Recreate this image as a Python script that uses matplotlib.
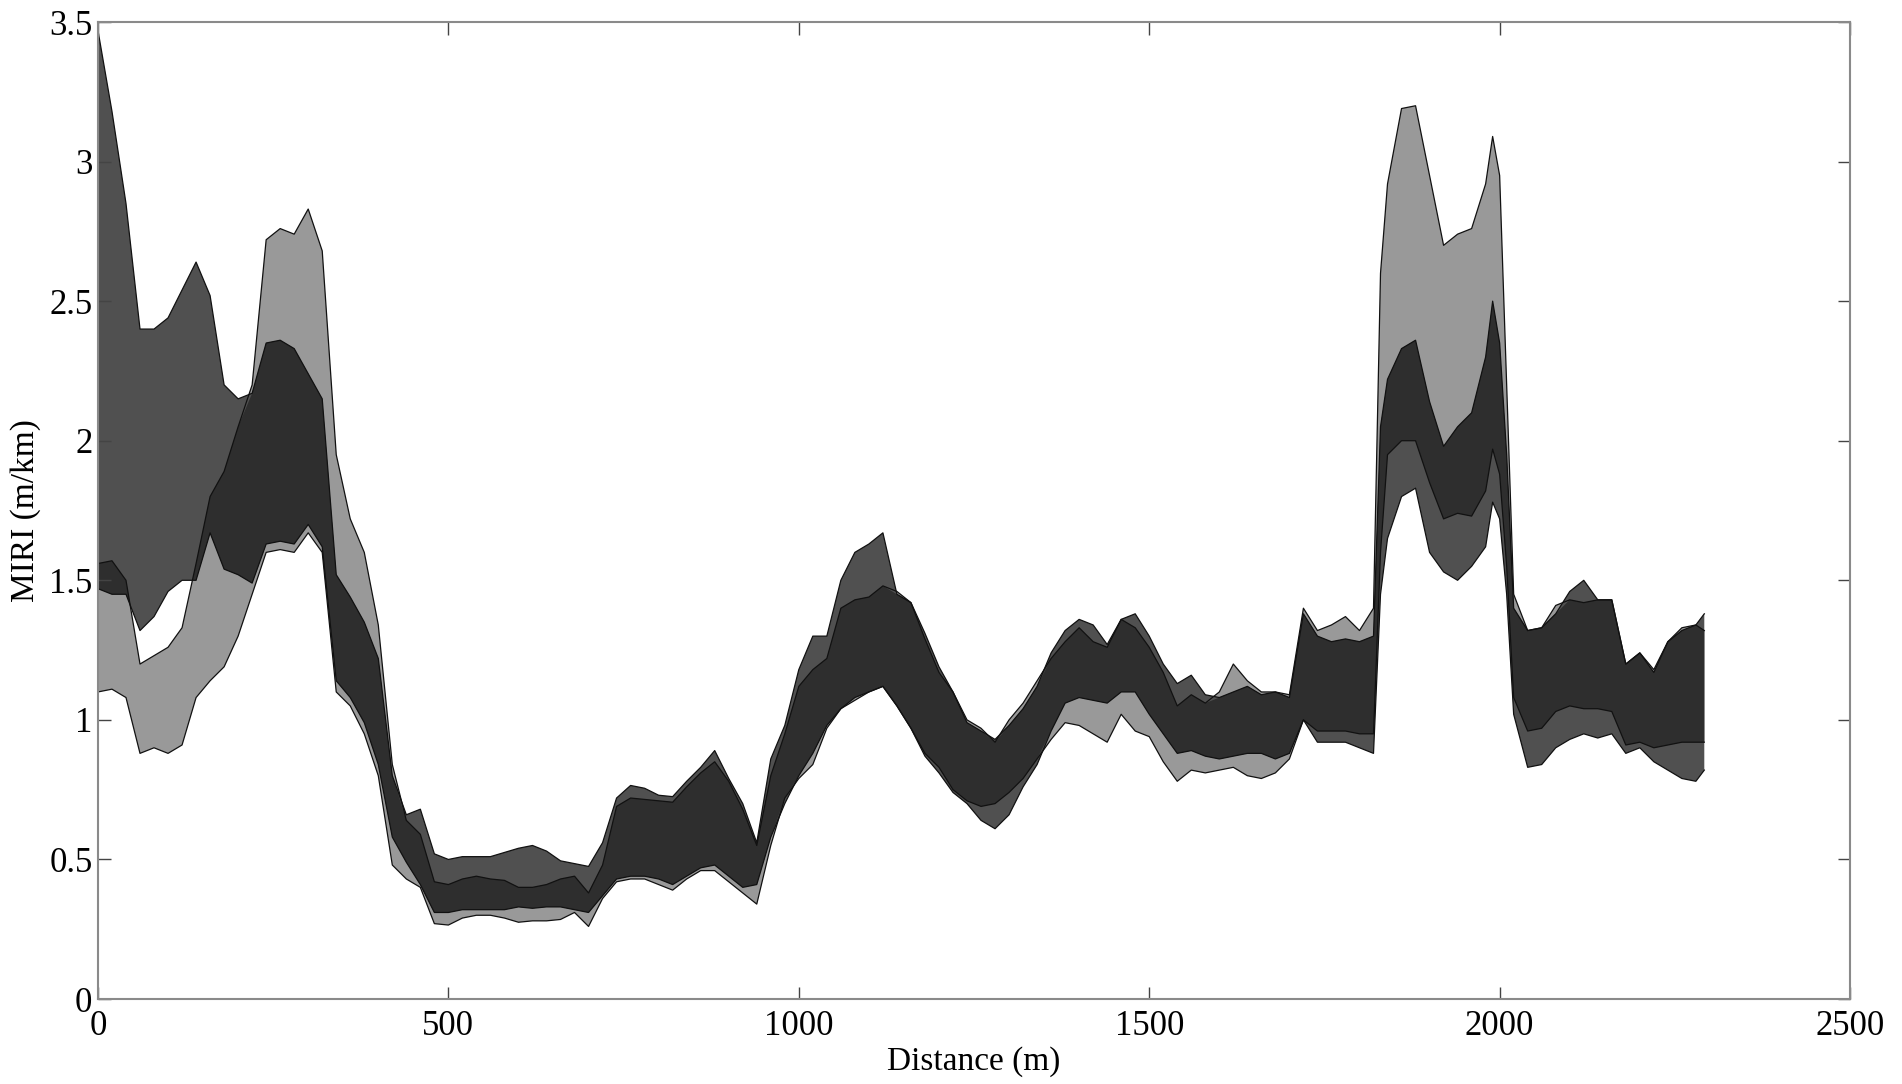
import numpy as np
import matplotlib
matplotlib.use('Agg')
import matplotlib.pyplot as plt

plt.rcParams['font.family'] = ['Liberation Serif', 'DejaVu Serif']

# distance along the road (m), a few extra samples at the steep parts
distance = np.concatenate([np.arange(0, 1830, 20), [1830],
                           np.arange(1840, 1990, 20), [1990, 2000, 2010],
                           np.arange(2020, 2300, 20), [2292]])

# light grey band
light_upper = [1.56, 1.57, 1.50, 1.20, 1.23, 1.26, 1.33, 1.56, 1.80, 1.89,
               2.05, 2.20, 2.72, 2.76, 2.74, 2.83, 2.68, 1.95, 1.72, 1.60,
               1.34, 0.84, 0.64, 0.59, 0.42, 0.41, 0.43, 0.44, 0.43, 0.425,
               0.40, 0.40, 0.41, 0.43, 0.44, 0.38, 0.48, 0.69, 0.72, 0.715,
               0.71, 0.705, 0.76, 0.81, 0.85, 0.78, 0.68, 0.55, 0.80, 0.95,
               1.12, 1.18, 1.22, 1.40, 1.43, 1.44, 1.48, 1.46, 1.42, 1.29,
               1.17, 1.10, 1.00, 0.97, 0.92, 1.00, 1.06, 1.14, 1.22, 1.28,
               1.33, 1.28, 1.26, 1.36, 1.33, 1.26, 1.17, 1.05, 1.09, 1.06,
               1.10, 1.20, 1.14, 1.10, 1.10, 1.09, 1.40, 1.32, 1.34, 1.37,
               1.32, 1.40, 2.60, 2.92, 3.19, 3.20, 2.95, 2.70, 2.74, 2.76,
               2.92, 3.09, 2.95, 2.20, 1.45, 1.32, 1.33, 1.41, 1.43, 1.42,
               1.43, 1.43, 1.20, 1.24, 1.18, 1.28, 1.33, 1.34, 1.32]
light_lower = [1.10, 1.11, 1.08, 0.88, 0.90, 0.88, 0.91, 1.08, 1.14, 1.19,
               1.30, 1.45, 1.60, 1.61, 1.60, 1.67, 1.60, 1.10, 1.05, 0.95,
               0.80, 0.48, 0.43, 0.40, 0.27, 0.265, 0.29, 0.30, 0.30, 0.29,
               0.275, 0.28, 0.28, 0.285, 0.31, 0.26, 0.36, 0.42, 0.43, 0.43,
               0.41, 0.39, 0.43, 0.46, 0.46, 0.42, 0.38, 0.34, 0.55, 0.72,
               0.79, 0.84, 0.97, 1.04, 1.07, 1.10, 1.12, 1.05, 0.97, 0.88,
               0.83, 0.75, 0.71, 0.69, 0.70, 0.74, 0.79, 0.86, 0.93, 0.99,
               0.98, 0.95, 0.92, 1.02, 0.96, 0.94, 0.85, 0.78, 0.82, 0.81,
               0.82, 0.83, 0.80, 0.79, 0.81, 0.86, 1.00, 0.96, 0.96, 0.96,
               0.95, 0.95, 1.60, 1.95, 2.00, 2.00, 1.85, 1.72, 1.74, 1.73,
               1.82, 1.97, 1.88, 1.55, 1.08, 0.96, 0.97, 1.03, 1.05, 1.04,
               1.04, 1.03, 0.91, 0.92, 0.90, 0.91, 0.92, 0.92, 0.92]

# dark grey band
dark_upper = [3.47, 3.18, 2.85, 2.40, 2.40, 2.44, 2.54, 2.64, 2.52, 2.20,
              2.15, 2.17, 2.35, 2.36, 2.33, 2.24, 2.15, 1.52, 1.44, 1.35,
              1.22, 0.80, 0.66, 0.68, 0.52, 0.50, 0.51, 0.51, 0.51, 0.525,
              0.54, 0.55, 0.53, 0.495, 0.485, 0.475, 0.56, 0.72, 0.765, 0.755,
              0.73, 0.725, 0.78, 0.83, 0.89, 0.79, 0.70, 0.56, 0.86, 0.98,
              1.18, 1.30, 1.30, 1.50, 1.60, 1.63, 1.67, 1.45, 1.42, 1.31,
              1.19, 1.10, 0.99, 0.96, 0.93, 0.98, 1.04, 1.12, 1.24, 1.32,
              1.36, 1.34, 1.27, 1.36, 1.38, 1.30, 1.20, 1.13, 1.16, 1.09,
              1.08, 1.10, 1.12, 1.09, 1.10, 1.08, 1.38, 1.30, 1.28, 1.29,
              1.28, 1.30, 2.05, 2.22, 2.33, 2.36, 2.14, 1.98, 2.05, 2.10,
              2.30, 2.50, 2.35, 1.95, 1.40, 1.32, 1.33, 1.38, 1.46, 1.50,
              1.43, 1.43, 1.20, 1.24, 1.17, 1.28, 1.32, 1.34, 1.38]
dark_lower = [1.47, 1.45, 1.45, 1.32, 1.37, 1.46, 1.50, 1.50, 1.67, 1.54,
              1.52, 1.49, 1.63, 1.64, 1.63, 1.70, 1.62, 1.14, 1.08, 0.99,
              0.84, 0.58, 0.49, 0.41, 0.31, 0.31, 0.32, 0.32, 0.32, 0.32,
              0.33, 0.325, 0.33, 0.33, 0.32, 0.31, 0.37, 0.43, 0.44, 0.44,
              0.43, 0.41, 0.44, 0.47, 0.48, 0.44, 0.40, 0.41, 0.58, 0.70,
              0.80, 0.88, 0.98, 1.04, 1.08, 1.10, 1.12, 1.05, 0.97, 0.87,
              0.81, 0.74, 0.70, 0.64, 0.61, 0.66, 0.76, 0.84, 0.96, 1.06,
              1.08, 1.07, 1.06, 1.10, 1.10, 1.02, 0.95, 0.88, 0.89, 0.87,
              0.86, 0.87, 0.88, 0.88, 0.86, 0.88, 1.00, 0.92, 0.92, 0.92,
              0.90, 0.88, 1.45, 1.65, 1.80, 1.83, 1.60, 1.53, 1.50, 1.55,
              1.62, 1.78, 1.72, 1.45, 1.02, 0.83, 0.84, 0.90, 0.93, 0.95,
              0.935, 0.95, 0.88, 0.90, 0.85, 0.82, 0.79, 0.78, 0.82]

light_upper = np.array(light_upper)
light_lower = np.array(light_lower)
dark_upper = np.array(dark_upper)
dark_lower = np.array(dark_lower)

fig = plt.figure(figsize=(19.02, 10.84), dpi=100)
ax = fig.add_axes([0.0515, 0.0784, 0.9212, 0.9013])

ax.fill_between(distance, light_lower, light_upper, facecolor='#999999', lw=0)
ax.fill_between(distance, dark_lower, dark_upper, facecolor='#505050', lw=0)

# where both bands overlap
lo = np.maximum(light_lower, dark_lower)
hi = np.minimum(light_upper, dark_upper)
ax.fill_between(distance, lo, hi, where=hi > lo, interpolate=True,
                facecolor='#2e2e2e', lw=0)

for curve in (light_upper, light_lower, dark_upper, dark_lower):
    ax.plot(distance, curve, color='#111111', lw=0.9)

ax.set_xlim(0, 2500)
ax.set_ylim(0, 3.5)
ax.set_xticks([0, 500, 1000, 1500, 2000, 2500])
ax.set_yticks([0, 0.5, 1, 1.5, 2, 2.5, 3, 3.5])
ax.set_yticklabels(['0', '0.5', '1', '1.5', '2', '2.5', '3', '3.5'])

for s in ax.spines.values():
    s.set_color('#8a8a8a')
    s.set_linewidth(1.5)
ax.tick_params(direction='in', length=9, width=1, color='#444444',
               top=True, right=True, labelsize=25, pad=4)
ax.tick_params(axis='x', pad=8)

ax.set_xlabel('Distance (m)', fontsize=24, labelpad=2)
ax.set_ylabel('MIRI (m/km)', fontsize=24, labelpad=6)

fig.savefig('out.png', dpi=100)
